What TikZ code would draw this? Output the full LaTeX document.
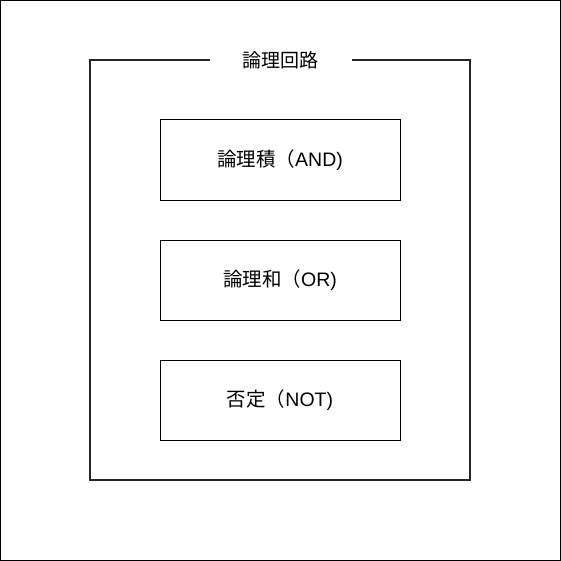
\documentclass[tikz,border=0pt]{standalone}
\usepackage{fontspec}
\setmainfont{Liberation Sans}
\newfontfamily\jp{Noto Sans CJK JP}
\begin{document}
\begin{tikzpicture}[x=1pt,y=-1pt,
  gatebox/.style={draw=black,line width=1pt,minimum width=240pt,minimum height=80pt,inner sep=0pt,font=\fontsize{19.5}{22}\selectfont},
  frameline/.style={draw=black!85,line width=1.4pt}]
\useasboundingbox (0,0) rectangle (561,561);
\draw[line width=1pt] (0.5,0.5) rectangle (560.5,560.5);
\node[gatebox] (and) at (280,160) {\jp 論理積（\normalfont AND)};
\node[gatebox] (or) at (280,280) {\jp 論理和（\normalfont OR)};
\node[gatebox] (not) at (280,400) {\jp 否定（\normalfont NOT)};
\node[font=\jp\fontsize{19}{22}\selectfont,inner sep=0pt] (title) at (280,60) {論理回路};
\coordinate (gl) at (210,60);
\coordinate (gr) at (352,60);
\coordinate (tl) at (90,60);
\coordinate (tr) at (470,60);
\coordinate (bl) at (90,480);
\coordinate (br) at (470,480);
\draw[frameline] (gl) -- (tl) -- (bl) -- (br) -- (tr) -- (gr);
\end{tikzpicture}
\end{document}
